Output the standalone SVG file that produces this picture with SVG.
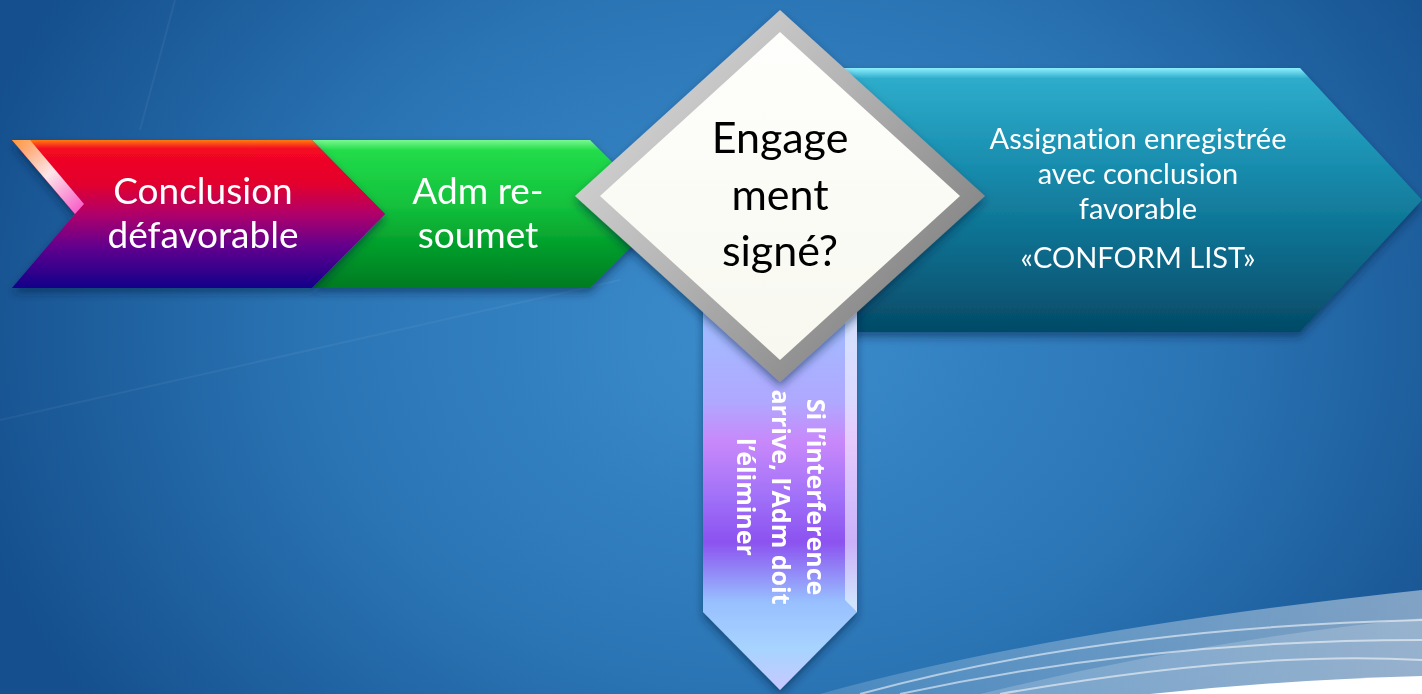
<svg xmlns="http://www.w3.org/2000/svg" width="1422" height="694" viewBox="0 0 1422 694">
<defs>
<radialGradient id="bg" cx="760" cy="330" r="820" gradientUnits="userSpaceOnUse" gradientTransform="translate(760 330) scale(1 0.8) translate(-760 -330)">
<stop offset="0" stop-color="#3c8dcd"/><stop offset="0.55" stop-color="#2a74b4"/><stop offset="1" stop-color="#154f8d"/>
</radialGradient>
<linearGradient id="gRed" x1="0" y1="140" x2="0" y2="288" gradientUnits="userSpaceOnUse">
<stop offset="0" stop-color="#ff7a10"/><stop offset="0.06" stop-color="#f40822"/><stop offset="0.3" stop-color="#e2002e"/><stop offset="0.5" stop-color="#b0006a"/><stop offset="0.72" stop-color="#62008e"/><stop offset="1" stop-color="#12008a"/>
</linearGradient>
<linearGradient id="gGreen" x1="0" y1="140" x2="0" y2="288" gradientUnits="userSpaceOnUse">
<stop offset="0" stop-color="#7af890"/><stop offset="0.07" stop-color="#22dc4a"/><stop offset="0.45" stop-color="#12c03c"/><stop offset="0.7" stop-color="#04a02c"/><stop offset="1" stop-color="#007a22"/>
</linearGradient>
<linearGradient id="gTeal" x1="0" y1="68" x2="0" y2="332" gradientUnits="userSpaceOnUse">
<stop offset="0" stop-color="#8ef0ff"/><stop offset="0.04" stop-color="#2eaccb"/><stop offset="0.35" stop-color="#1a8fb0"/><stop offset="0.7" stop-color="#0b6a8a"/><stop offset="1" stop-color="#054a66"/>
</linearGradient>
<linearGradient id="gVert" x1="0" y1="290" x2="0" y2="690" gradientUnits="userSpaceOnUse">
<stop offset="0" stop-color="#9cc4ff"/><stop offset="0.28" stop-color="#b0a8ff"/><stop offset="0.38" stop-color="#c888fa"/><stop offset="0.52" stop-color="#a070f8"/><stop offset="0.63" stop-color="#8c52f0"/><stop offset="0.78" stop-color="#98c0ff"/><stop offset="0.9" stop-color="#a8d4ff"/><stop offset="1" stop-color="#c8c8ff"/>
</linearGradient>
<linearGradient id="gBevel" x1="575" y1="10" x2="985" y2="382" gradientUnits="userSpaceOnUse">
<stop offset="0" stop-color="#e4e4e4"/><stop offset="0.45" stop-color="#b4b4b4"/><stop offset="1" stop-color="#6e6e6e"/>
</linearGradient>
<linearGradient id="gInner" x1="0" y1="32" x2="0" y2="360" gradientUnits="userSpaceOnUse">
<stop offset="0" stop-color="#fefefc"/><stop offset="1" stop-color="#f8f8f0"/>
</linearGradient>
<linearGradient id="gSwoosh" x1="820" y1="0" x2="1422" y2="0" gradientUnits="userSpaceOnUse">
<stop offset="0" stop-color="#ffffff" stop-opacity="0.15"/><stop offset="1" stop-color="#ffffff" stop-opacity="0.45"/>
</linearGradient>
<linearGradient id="gHi" x1="12" y1="140" x2="80" y2="214" gradientUnits="userSpaceOnUse">
<stop offset="0" stop-color="#ff9a40"/><stop offset="0.5" stop-color="#ffffff"/><stop offset="1" stop-color="#ff60d0"/>
</linearGradient>
<filter id="sh" x="-10%" y="-10%" width="120%" height="130%">
<feDropShadow dx="0" dy="5" stdDeviation="4" flood-color="#002040" flood-opacity="0.5"/>
</filter>
<style>
.lbl{font-family:Lato,"Open Sans","Liberation Sans",sans-serif;fill:#ffffff;text-anchor:middle;font-variant-ligatures:none}
.big{font-size:37px}
.dia{font-family:Lato,"Open Sans","Liberation Sans",sans-serif;fill:#000000;text-anchor:middle;font-size:43px;font-variant-ligatures:none}
.teal{font-size:29px}
.vert{font-family:"Open Sans","Noto Sans","Liberation Sans",sans-serif;font-weight:700;font-size:25px;fill:#ffffff;text-anchor:middle}
</style>
</defs>

<!-- background -->
<rect x="0" y="0" width="1422" height="694" fill="url(#bg)"/>
<g fill="none" stroke="#ffffff" stroke-opacity="0.05" stroke-width="2">
<path d="M0 420 L620 280"/>
<path d="M175 0 L140 130"/>
</g>
<path d="M820 694 Q1050 630 1422 590 L1422 694 Z" fill="url(#gSwoosh)"/>
<path d="M980 694 Q1200 640 1422 618 L1422 694 Z" fill="#ffffff" fill-opacity="0.18"/>
<g fill="none" stroke="#ffffff" stroke-opacity="0.55" stroke-width="2">
<path d="M860 694 Q1100 628 1422 620"/>
<path d="M900 694 Q1150 640 1422 640"/>
<path d="M1000 694 Q1250 650 1422 660"/>
</g>
<path d="M1150 694 Q1280 680 1422 676 L1422 694 Z" fill="#ffffff"/>

<g id="connectors"></g>

<g id="node-teal" filter="url(#sh)">
<polygon points="760,68 1300,68 1422,200 1300,332 760,332" fill="url(#gTeal)"/>
<text class="lbl teal" x="1138" y="149">Assignation enregistrée</text>
<text class="lbl teal" x="1138" y="184">avec conclusion</text>
<text class="lbl teal" x="1138" y="219">favorable</text>
<text class="lbl teal" x="1138" y="268">«CONFORM LIST»</text>
</g>

<g id="node-interference" filter="url(#sh)">
<polygon points="703,280 857,280 857,612 780,690 703,612" fill="url(#gVert)"/>
<polygon points="845,290 857,280 857,612 845,600" fill="#ffffff" fill-opacity="0.55"/>
<g transform="translate(807 497) rotate(90)">
<text class="vert" x="0" y="0">Si l’interference</text>
<text class="vert" x="0" y="35">arrive, l’Adm doit</text>
<text class="vert" x="0" y="70">l’éliminer</text>
</g>
</g>

<g id="node-adm" filter="url(#sh)">
<polygon points="312,140 590,140 664,214 590,288 312,288 385,214" fill="url(#gGreen)"/>
<text class="lbl big" x="478" y="204">Adm re-</text>
<text class="lbl big" x="478" y="248">soumet</text>
</g>

<g id="node-conclusion" filter="url(#sh)">
<polygon points="12,140 312,140 385,214 312,288 12,288 75,214" fill="url(#gRed)"/>
<polygon points="12,140 30,140 84,204 75,214" fill="url(#gHi)" fill-opacity="0.9"/>
<text class="lbl big" x="203" y="204">Conclusion</text>
<text class="lbl big" x="203" y="248">défavorable</text>
</g>

<g id="node-decision" filter="url(#sh)">
<polygon points="780,10 985,196 780,382 575,196" fill="url(#gBevel)"/>
<polygon points="780,32 960,196 780,360 600,196" fill="url(#gInner)"/>
<text class="dia" x="780" y="153">Engage</text>
<text class="dia" x="780" y="210">ment</text>
<text class="dia" x="780" y="266">signé?</text>
</g>
</svg>
